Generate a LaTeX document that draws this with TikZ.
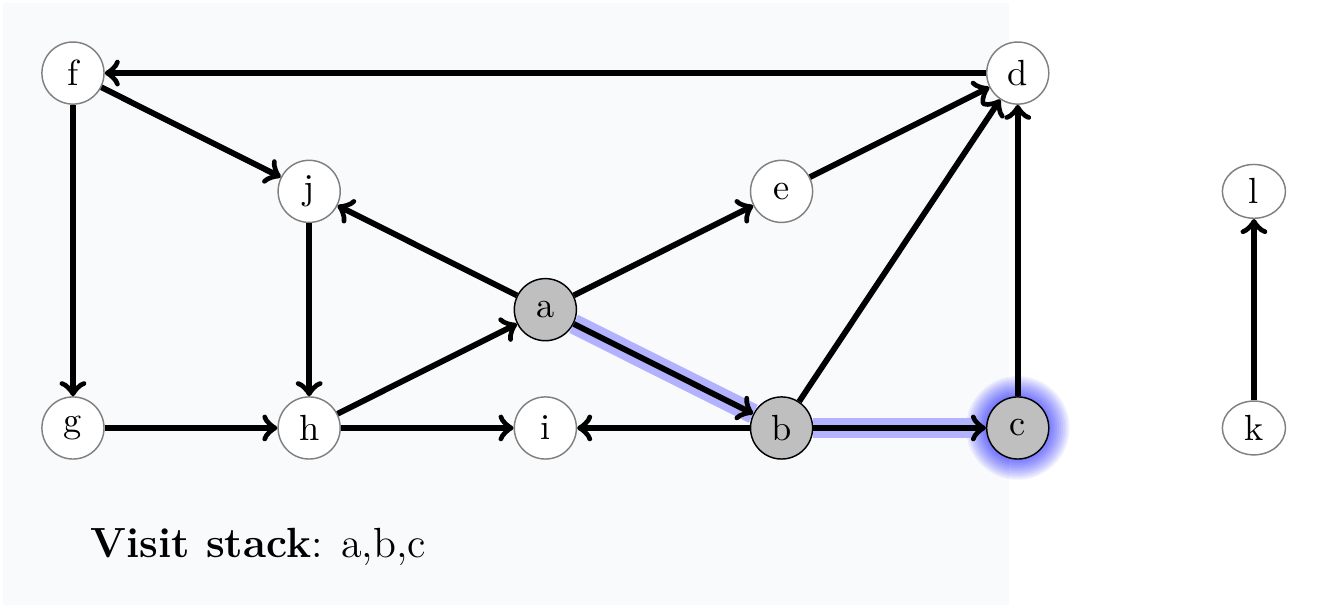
\documentclass[tikz,border=0pt]{standalone}
\usepackage{tikz}
\usetikzlibrary{shapes.geometric}

\definecolor{panel}{RGB}{249,250,252}

\begin{document}
\begin{tikzpicture}[
    vertex/.style={circle, draw=gray, fill=white, minimum size=0.6cm, inner sep=0pt},
    oval/.style={ellipse, draw=gray, fill=white, minimum width=0.61cm, minimum height=0.52cm, inner sep=0pt},
    visited/.style={vertex, draw=black, fill=gray!50},
    edge/.style={->, ultra thick},
    trail/.style={line width=5.5pt, blue!30}
]
        \useasboundingbox (0,0) rectangle (12.85,5.884);
        % Panel behind the graph
        \fill[panel] (0.03,0.04) rectangle (9.75,5.855);

        \begin{scope}[shift={(0.705cm,1.749cm)}, x=2.282cm, y=1.143cm]
        % Glow round the current vertex
        \foreach \r in {0.30,0.32,...,0.52}
            \fill[blue, opacity=0.065] (4,0) circle (\r cm);

        % Vertices
        \node[vertex] (f) at (0,3) {f};
        \node[vertex] (d) at (4,3) {d};
        \node[vertex] (j) at (1,2) {j};
        \node[vertex] (e) at (3,2) {e};
        \node[visited] (a) at (2,1) {a};
        \node[vertex] (g) at (0,0) {g};
        \node[vertex] (h) at (1,0) {h};
        \node[vertex] (i) at (2,0) {i};
        \node[visited] (b) at (3,0) {b};
        \node[visited] (c) at (4,0) {c};
        \node[oval] (l) at (5,2) {l};
        \node[oval] (k) at (5,0) {k};

        % Path followed so far
        \draw[trail] (a) -- (b);
        \draw[trail, shorten >=3pt] (b) -- (c);

        % Edges
        \draw[edge] (d) -- (f);
        \draw[edge] (f) -- (j);
        \draw[edge] (f) -- (g);
        \draw[edge] (j) -- (h);
        \draw[edge] (a) -- (j);
        \draw[edge] (a) -- (e);
        \draw[edge] (e) -- (d);
        \draw[edge] (b) -- (d);
        \draw[edge] (c) -- (d);
        \draw[edge] (h) -- (a);
        \draw[edge] (g) -- (h);
        \draw[edge] (h) -- (i);
        \draw[edge] (b) -- (i);
        \draw[edge] (a) -- (b);
        \draw[edge] (b) -- (c);
        \draw[edge] (k) -- (l);
        \end{scope}

        % Stack contents
        \node[anchor=base west, inner sep=0pt, font=\fontsize{11.6}{14}\selectfont] (stack) at (0.87,0.50) {\textbf{Visit stack}: a,b,c};
    \end{tikzpicture}
\end{document}
